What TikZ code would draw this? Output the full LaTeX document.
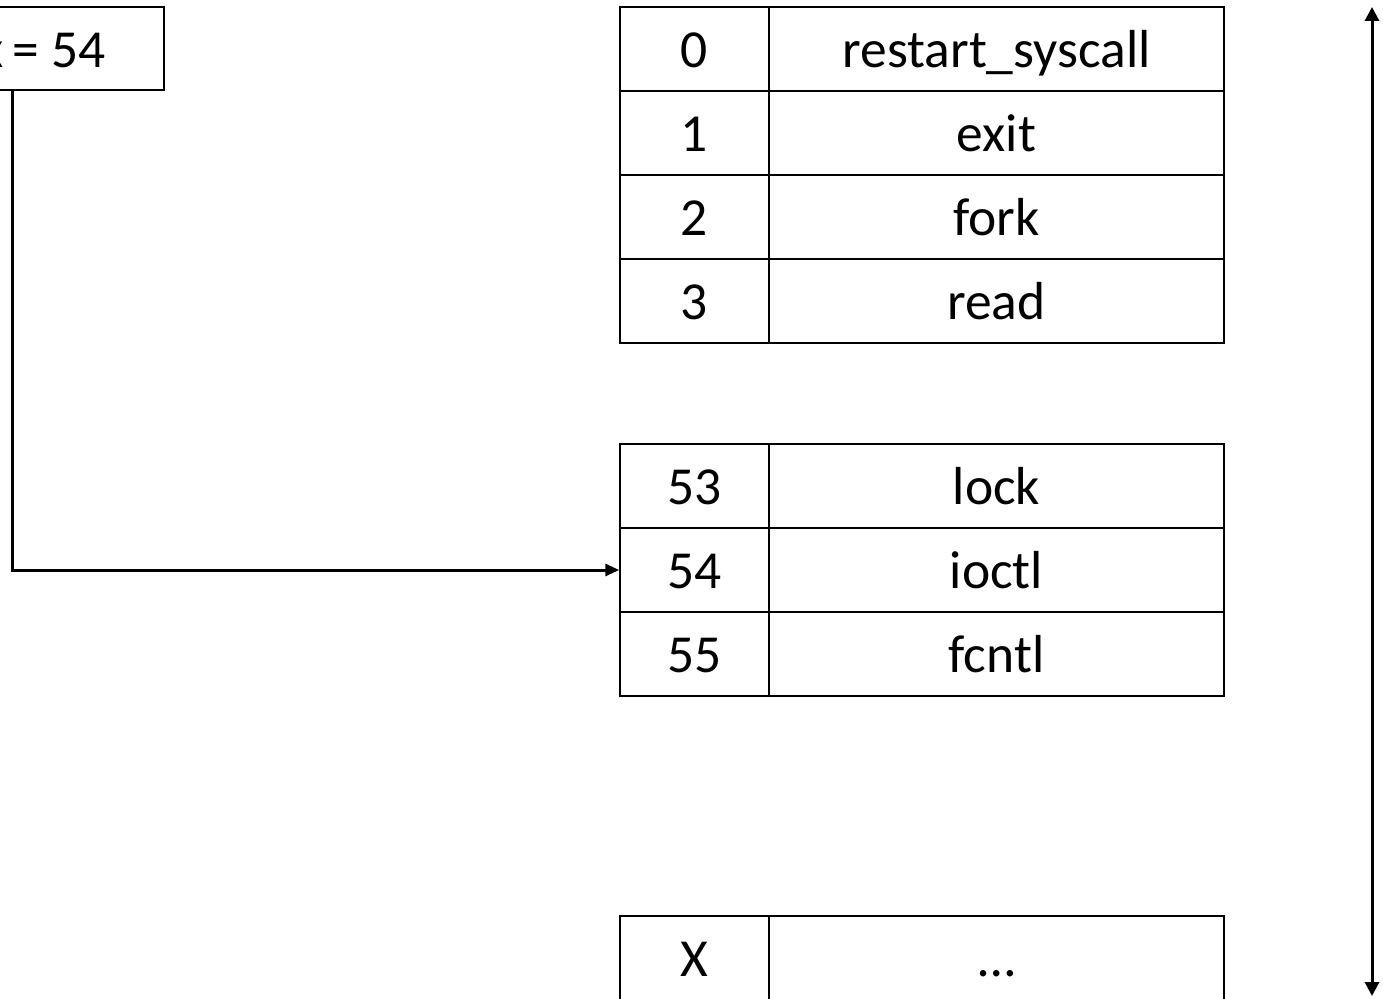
\documentclass[tikz,border=0pt]{standalone}
\usepackage{fontspec}
\setmainfont{Carlito}
\usetikzlibrary{arrows.meta}
\begin{document}
\begin{tikzpicture}[x=1pt,y=-1pt,
  cell/.style={draw,line width=1.5pt,minimum height=84pt,inner sep=0pt,text height=37pt,text depth=0pt,font=\fontsize{53.5}{60}\selectfont},
  numcell/.style={cell,minimum width=149pt},
  namecell/.style={cell,minimum width=455pt},
  conn/.style={line width=3pt,-{Triangle[length=14pt,width=12pt]}},
  span/.style={line width=3pt,{Triangle[length=14pt,width=14pt]}-{Triangle[length=14pt,width=14pt]}}]
\useasboundingbox (0,0) rectangle (1383,998);
\clip (0,0) rectangle (1383,998);
\fill[white] (0,0) rectangle (1383,998);
% x box
\node[draw,line width=1.5pt,minimum width=250pt,minimum height=83pt,inner sep=0pt] (xbox) at (39,48.5) {};
\node[anchor=base east,inner sep=0pt,font=\fontsize{53.5}{60}\selectfont] (xlabel) at (106,67) {x\hspace{-3pt} = 54};
% top table
\node[numcell] (n0) at (694.5,49) {0};
\node[namecell] (f0) at (996.5,49) {restart\_syscall};
\node[numcell] (n1) at (694.5,133) {1};
\node[namecell] (f1) at (996.5,133) {exit};
\node[numcell] (n2) at (694.5,217) {2};
\node[namecell] (f2) at (996.5,217) {fork};
\node[numcell] (n3) at (694.5,301) {3};
\node[namecell] (f3) at (996.5,301) {read};
% middle table
\node[numcell] (n53) at (694.5,486) {53};
\node[namecell] (f53) at (996.5,486) {lock};
\node[numcell] (n54) at (694.5,570) {54};
\node[namecell] (f54) at (996.5,570) {ioctl};
\node[numcell] (n55) at (694.5,654) {55};
\node[namecell] (f55) at (996.5,654) {fcntl};
% bottom table
\node[numcell] (nX) at (694.5,958) {X};
\node[namecell] (fX) at (996.5,958) {…};
% connector
\coordinate (start) at (12,90);
\draw[conn] (start) |- (n54.west);
% span arrow
\coordinate (top) at (1372,7);
\coordinate (bot) at (1372,996);
\draw[span] (top) -- (bot);
\end{tikzpicture}
\end{document}
